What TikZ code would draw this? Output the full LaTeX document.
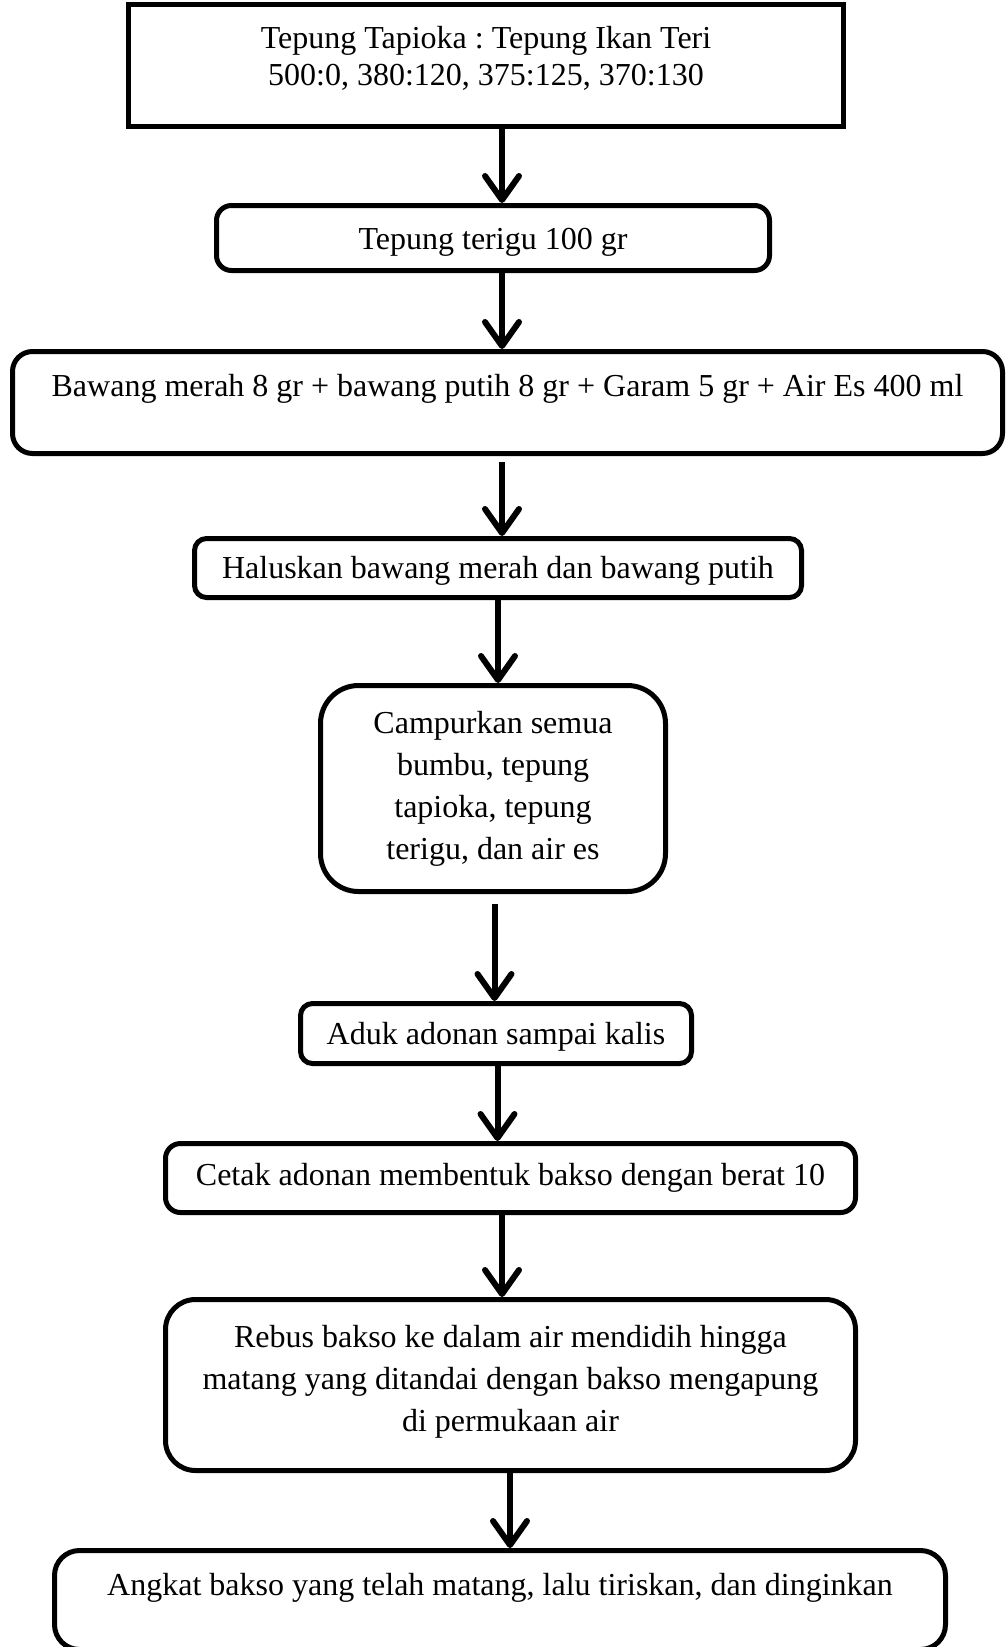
\documentclass[tikz,border=0pt]{standalone}
\usepackage{fontspec}
\setmainfont{Liberation Serif}
\usetikzlibrary{positioning,arrows.meta}
\frenchspacing

\begin{document}
\begin{tikzpicture}[x=1pt,y=1pt,font=\fontsize{32}{42}\selectfont,
  box/.style={draw,line width=5pt,rounded corners=#1,inner xsep=0pt,inner ysep=0pt,align=flush center},
  box/.default=15pt,
  arr/.style={line width=6pt,-{Straight Barb[length=24pt,width=34pt,round]}}]
\useasboundingbox (0,0) rectangle (1005,-1647);
\node[box,sharp corners,minimum width=715pt,text width=700pt,text height=43.5pt,text depth=78.5pt] (b1) at (486,-65.5)
  {Tepung Tapioka : Tepung Ikan Teri\\[-5pt]500:0, 380:120, 375:125, 370:130};
\node[box,below=74pt of b1,xshift=7pt,minimum width=553pt,text height=43.5pt,text depth=21.5pt] (b2)
  {Tepung terigu 100 gr};
\node[box=20pt,below=76pt of b2,xshift=14.5pt,minimum width=990pt,text height=44.5pt,text depth=57.5pt] (b3)
  {Bawang merah 8 gr + bawang putih 8 gr + Garam 5 gr + Air Es 400 ml};
\node[box=12pt,below=80pt of b3,xshift=-9.5pt,minimum width=607pt,text height=39.5pt,text depth=19.5pt] (b4)
  {Haluskan bawang merah dan bawang putih};
\node[box=38pt,below=83pt of b4,xshift=-5pt,minimum width=345pt,text width=330pt,text height=47.5pt,text depth=158.5pt] (b5)
  {Campurkan semua\\bumbu, tepung\\tapioka, tepung\\terigu, dan air es};
\node[box=12pt,below=107pt of b5,xshift=3pt,minimum width=391pt,text height=40.5pt,text depth=19.5pt] (b6)
  {Aduk adonan sampai kalis};
\node[box,below=75pt of b6,xshift=14.5pt,minimum width=690pt,text height=41.5pt,text depth=27.5pt] (b7)
  {Cetak adonan membentuk bakso dengan berat 10};
\node[box=30pt,below=82pt of b7,minimum width=690pt,text width=680pt,text height=47.5pt,text depth=123.5pt] (b8)
  {Rebus bakso ke dalam air mendidih hingga\\matang yang ditandai dengan bakso mengapung\\di permukaan air};
\node[box=25pt,below=75pt of b8,xshift=-10.5pt,minimum width=891pt,text height=44.5pt,text depth=54.5pt] (b9)
  {Angkat bakso yang telah matang, lalu tiriskan, dan dinginkan};
% arrows between the steps
\draw[arr] ([xshift=16pt]b1.south) -- ([xshift=9pt]b2.north);
\draw[arr] ([xshift=9pt]b2.south) -- ([xshift=-5.5pt]b3.north);
\draw[arr,shorten <=6pt] ([xshift=-5.5pt]b3.south) -- ([xshift=4pt]b4.north);
\draw[arr] (b4.south) -- ([xshift=5pt]b5.north);
\draw[arr,shorten <=10pt] ([xshift=1.5pt]b5.south) -- ([xshift=-1.5pt]b6.north);
\draw[arr] ([xshift=1.5pt]b6.south) -- ([xshift=-13pt]b7.north);
\draw[arr] ([xshift=-8.5pt]b7.south) -- ([xshift=-8.5pt]b8.north);
\draw[arr] ([xshift=-0.5pt]b8.south) -- ([xshift=10pt]b9.north);
\end{tikzpicture}
\end{document}
